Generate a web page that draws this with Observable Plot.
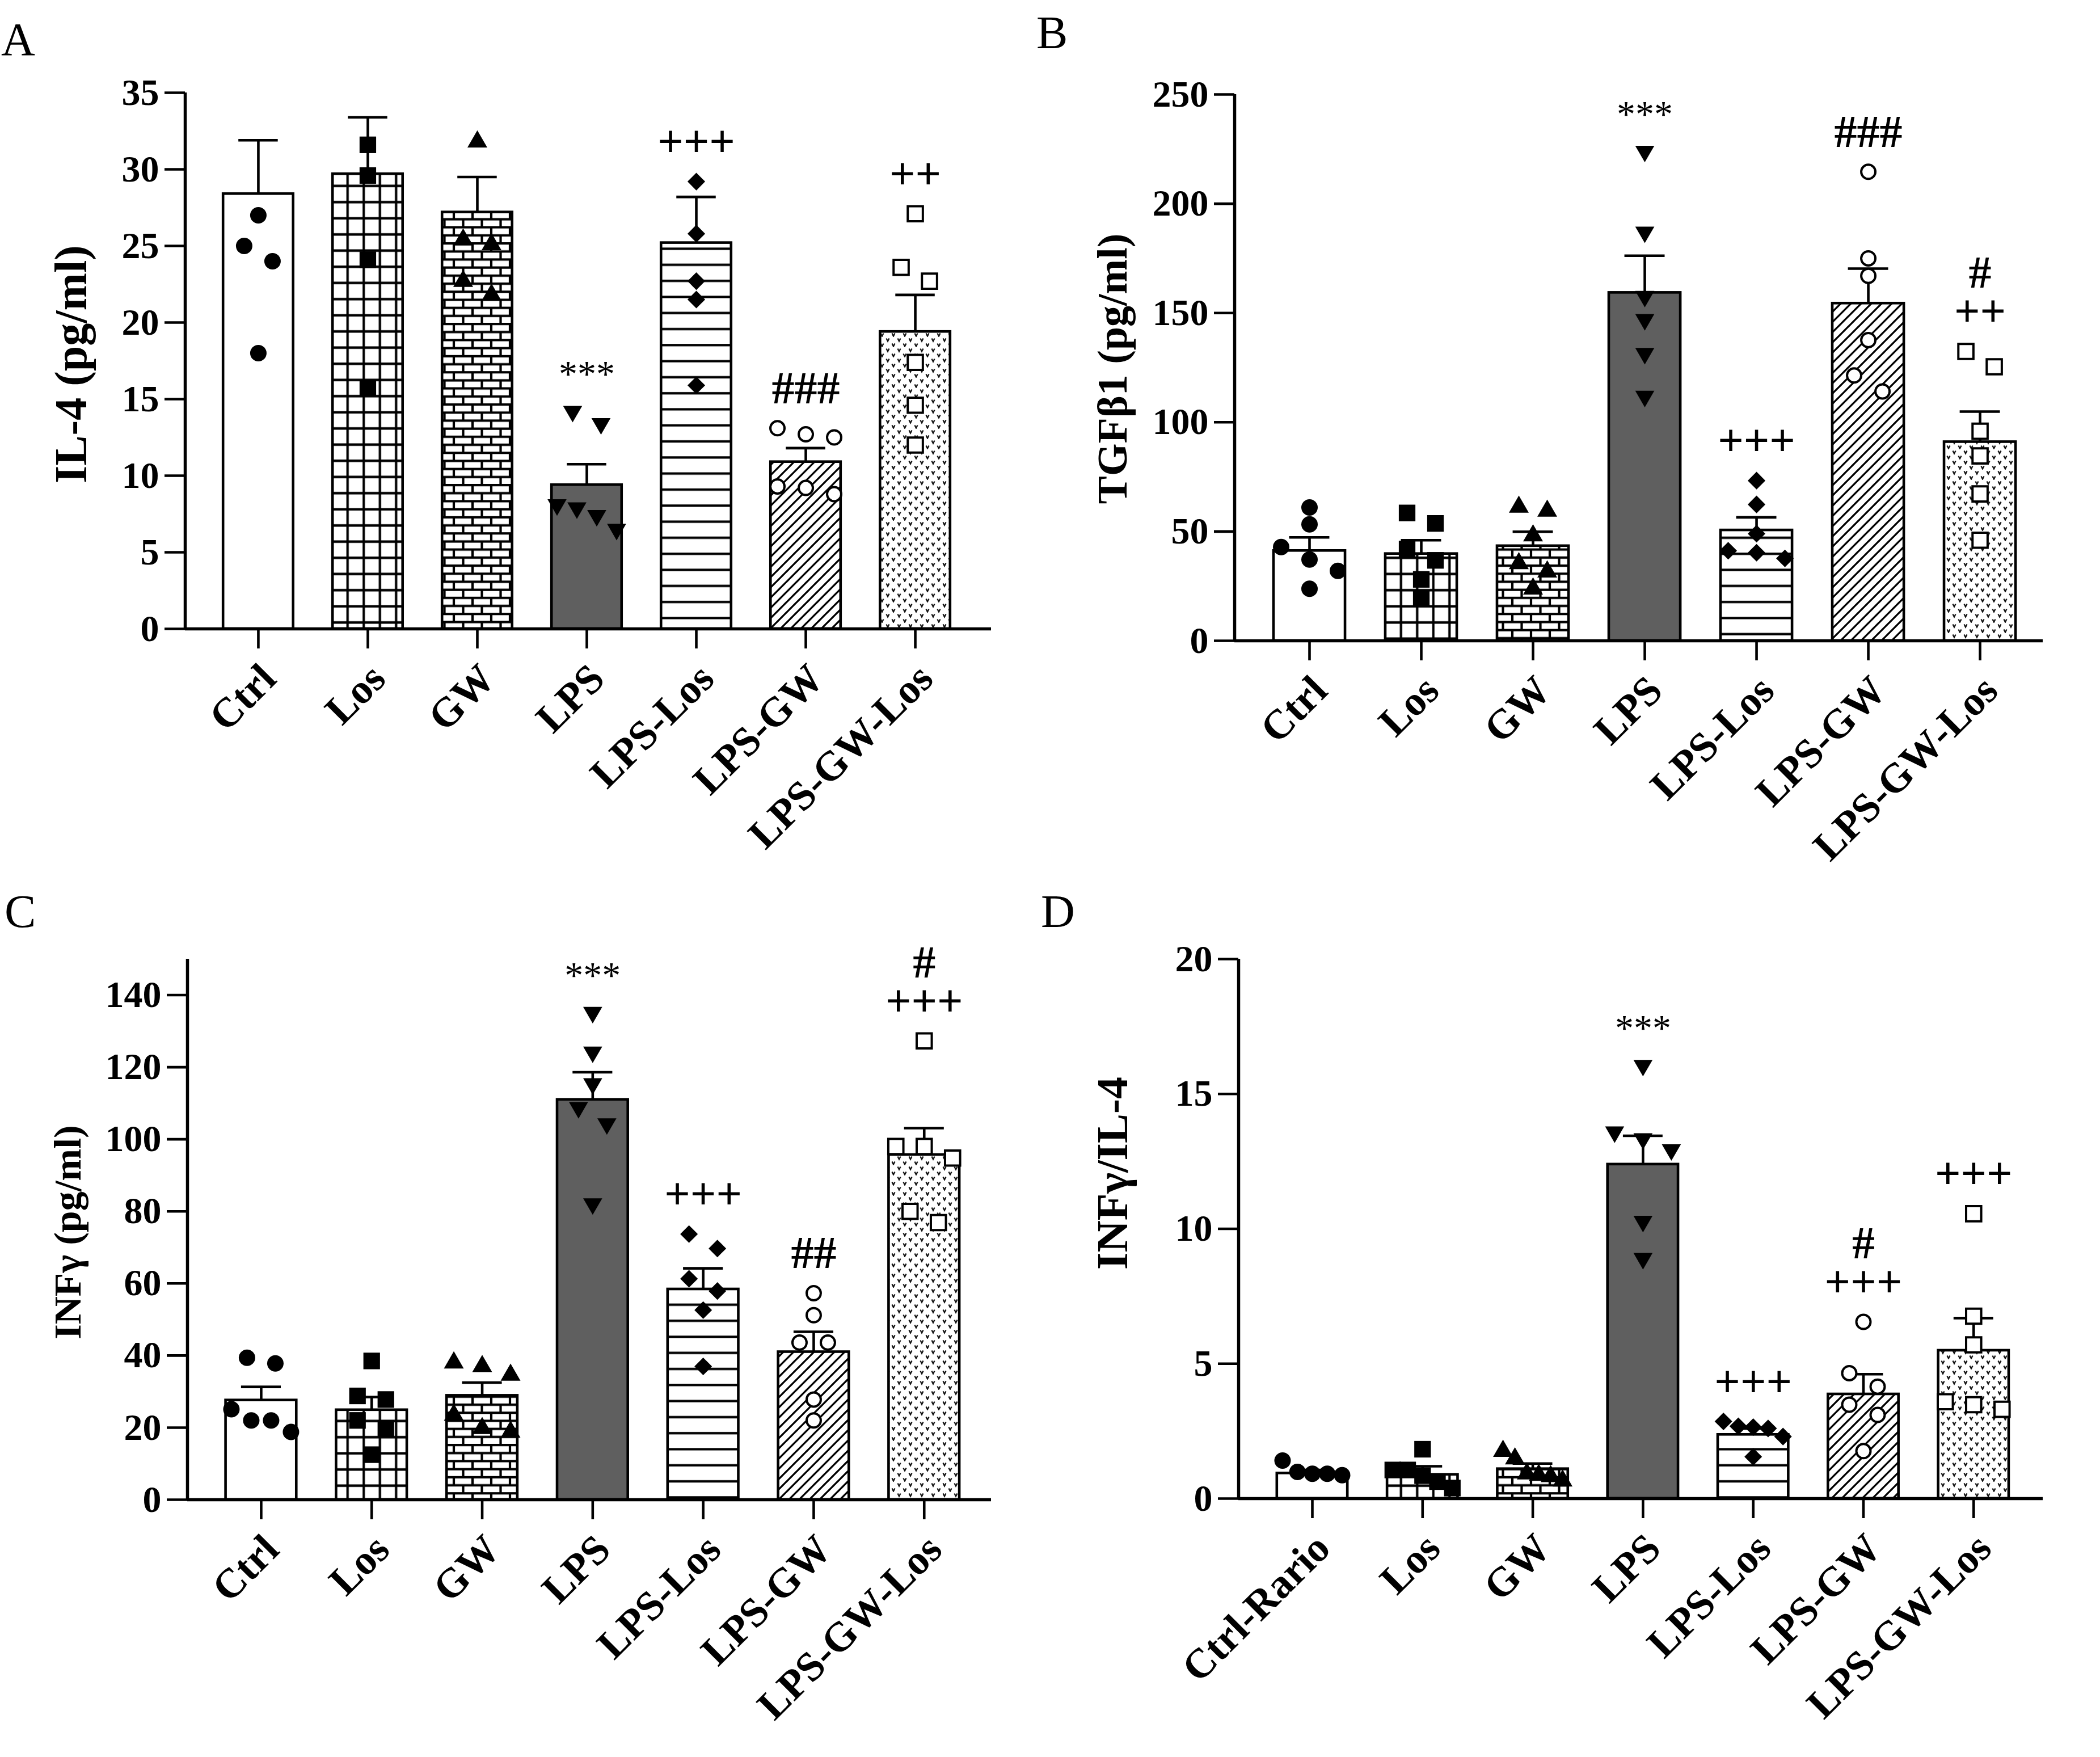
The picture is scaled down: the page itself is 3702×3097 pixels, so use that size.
<!DOCTYPE html>
<html>
<head>
<meta charset="utf-8">
<script src="https://cdn.jsdelivr.net/npm/d3@7"></script>
<script src="https://cdn.jsdelivr.net/npm/@observablehq/plot@0.6"></script>
<style>
  body { margin: 0; background: #fff; }
  #fig { position: relative; width: 3702px; height: 3097px; background: #fff; overflow: hidden; }
  .panel { position: absolute; }
  #letters { position: absolute; left: 0; top: 0; }
</style>
</head>
<body>
<div id="fig"></div>
<script>
// ---------------- DATA ----------------
const categories = ["Ctrl", "Los", "GW", "LPS", "LPS-Los", "LPS-GW", "LPS-GW-Los"];
const categoriesD = ["Ctrl-Rario", "Los", "GW", "LPS", "LPS-Los", "LPS-GW", "LPS-GW-Los"];

// Panel A: IL-4 (pg/ml)
const il4Mean = [28.4, 29.7, 27.2, 9.4, 25.2, 10.9, 19.4];
const il4Sem = [3.5, 3.7, 2.3, 1.35, 3.0, 0.9, 2.4];
const il4Points = [
  [27.0, 25.0, 24.0, 18.0],
  [31.6, 29.6, 24.1, 15.7],
  [31.8, 25.4, 25.1, 22.7, 21.8],
  [14.2, 13.4, 8.1, 7.9, 7.4, 6.5],
  [29.2, 25.8, 22.7, 21.5, 15.9],
  [13.1, 12.7, 12.5, 9.3, 9.2, 8.8],
  [27.1, 23.6, 22.7, 17.4, 14.6, 12.0]
];
const il4Signif = ["", "", "", "***", "+++", "###", "++"];
const il4Ticks = [0, 5, 10, 15, 20, 25, 30, 35];

// Panel B: TGFβ1 (pg/ml)
const tgfMean = [41.2, 39.8, 43.4, 159.3, 50.6, 154.4, 91.0];
const tgfSem = [6.1, 6.2, 6.5, 16.9, 5.9, 15.9, 13.9];
const tgfPoints = [
  [61.0, 53.3, 42.9, 37.2, 32.0, 23.8],
  [58.5, 53.7, 42.0, 36.8, 28.1, 19.5],
  [61.2, 59.4, 48.1, 35.4, 31.6, 23.8],
  [224.0, 187.0, 157.6, 147.0, 131.5, 111.9],
  [73.3, 62.4, 49.0, 41.2, 40.3, 37.7],
  [214.6, 175.0, 167.0, 137.6, 121.4, 114.1],
  [132.4, 125.4, 95.9, 84.6, 67.2, 46.0]
];
const tgfSignif = ["", "", "", "***", "+++", "###", "#\n++"];
const tgfTicks = [0, 50, 100, 150, 200, 250];

// Panel C: INFγ (pg/ml)
const infMean = [27.6, 24.9, 28.9, 111.0, 58.4, 41.0, 95.7];
const infSem = [3.7, 3.6, 3.6, 7.6, 5.8, 5.6, 7.4];
const infPoints = [
  [39.4, 37.8, 25.1, 22.0, 22.0, 18.8],
  [38.5, 28.8, 27.8, 22.0, 19.8, 12.5],
  [38.0, 37.0, 34.6, 23.5, 19.8, 18.8],
  [135.2, 124.2, 115.4, 108.8, 104.3, 82.1],
  [73.7, 69.7, 61.3, 57.9, 52.6, 37.0],
  [57.3, 51.2, 43.6, 43.6, 27.8, 22.0],
  [127.3, 98.0, 98.0, 94.8, 80.0, 76.9]
];
const infSignif = ["", "", "", "***", "+++", "##", "#\n+++"];
const infTicks = [0, 20, 40, 60, 80, 100, 120, 140];

// Panel D: INFγ/IL-4
const ratioMean = [0.94, 0.89, 1.10, 12.39, 2.37, 3.87, 5.49];
const ratioSem = [0.12, 0.31, 0.20, 1.06, 0.23, 0.74, 1.20];
const ratioPoints = [
  [1.41, 0.99, 0.92, 0.92, 0.87],
  [1.83, 1.06, 1.06, 0.85, 0.63, 0.39],
  [1.76, 1.48, 0.92, 0.87, 0.82, 0.66],
  [16.06, 13.59, 13.34, 12.93, 10.28, 8.90],
  [2.86, 2.68, 2.65, 2.60, 2.30, 1.55],
  [6.55, 4.65, 4.15, 3.48, 3.10, 1.76],
  [10.56, 6.76, 5.70, 3.59, 3.48, 3.31]
];
const ratioSignif = ["", "", "", "***", "+++", "#\n+++", "+++"];
const ratioTicks = [0, 5, 10, 15, 20];

// ---------------- STYLE / LAYOUT ----------------
const FONT = "'Liberation Serif', 'Times New Roman', serif";
const LW = 4.6;

const triangleDown = {
  draw(context, size) {
    const y = -Math.sqrt(size / (Math.sqrt(3) * 3));
    context.moveTo(0, -y * 2);
    context.lineTo(-Math.sqrt(3) * y, y);
    context.lineTo(Math.sqrt(3) * y, y);
    context.closePath();
  }
};
const markerStyles = [
  {symbol: d3.symbolCircle, r: 14.5, fill: "black"},
  {symbol: d3.symbolSquare, r: 16.5, fill: "black"},
  {symbol: d3.symbolTriangle, r: 13, fill: "black"},
  {symbol: triangleDown, r: 12.5, fill: "black"},
  {symbol: d3.symbolDiamond2, r: 14, fill: "black"},
  {symbol: d3.symbolCircle, r: 12.5, fill: "white", stroke: "black", strokeWidth: 4},
  {symbol: d3.symbolSquare, r: 15, fill: "white", stroke: "black", strokeWidth: 4}
];
const barFills = ["white", "grid", "brick", "#5f5f5f", "hlines", "diag", "dots"];

function addPatterns(svg, p) {
  const defs = d3.select(svg).insert("defs", ":first-child");
  function pat(id, w, h) {
    const pt = defs.append("pattern").attr("id", p + id)
      .attr("patternUnits", "userSpaceOnUse").attr("width", w).attr("height", h);
    pt.append("rect").attr("width", w).attr("height", h).attr("fill", "white");
    return pt;
  }
  pat("grid", 28.5, 28.5).append("path").attr("d", "M14.25,0V28.5M0,14.25H28.5")
    .attr("stroke", "black").attr("stroke-width", 4.2).attr("fill", "none");
  pat("brick", 33, 28.4).append("path").attr("d", "M0,3H33M0,17.2H33M8,3V17.2M24.5,17.2V28.4M24.5,0V3")
    .attr("stroke", "black").attr("stroke-width", 4.2).attr("fill", "none");
  pat("hlines", 10, 28.3).append("path").attr("d", "M0,14H10")
    .attr("stroke", "black").attr("stroke-width", 4.2);
  pat("diag", 18, 18).append("path").attr("d", "M-5,5L5,-5M0,18L18,0M13,23L23,13")
    .attr("stroke", "black").attr("stroke-width", 3.3);
  pat("dots", 20, 18).append("path").attr("d", "M2.5,2.5L5,7.5L7.5,2.5M12.5,11.5L15,16.5L17.5,11.5")
    .attr("stroke", "#111").attr("stroke-width", 2.3).attr("fill", "none");
}

function layoutDots(points, pxPerX, pxPerY) {
  const out = [];
  points.forEach((vals, i) => {
    const sorted = vals.slice().sort((a, b) => b - a);
    const groups = [];
    let cur = [sorted[0]];
    for (let k = 1; k < sorted.length; k++) {
      if ((cur[cur.length - 1] - sorted[k]) * pxPerY < 29) cur.push(sorted[k]);
      else { groups.push(cur); cur = [sorted[k]]; }
    }
    groups.push(cur);
    groups.forEach(g => {
      const n = g.length;
      const step = n > 1 ? Math.min(50, 105 / (n - 1)) : 0;
      g.forEach((v, k) => out.push({i, v, x: i + ((k - (n - 1) / 2) * step) / pxPerX}));
    });
  });
  return out;
}

function buildPanel(cfg) {
  const {id, cats, mean, sem, points, signif, ticks, title} = cfg;
  const {left, top, width, height, ml, mt, mb, mr, xDomain, yDomain} = cfg;
  const pxPerY = (height - mt - mb) / (yDomain[1] - yDomain[0]);
  const pxPerX = (width - ml - mr) / (xDomain[1] - xDomain[0]);
  const rows = cats.map((c, i) => ({
    i, cat: c, mean: mean[i], top: mean[i] + sem[i],
    fill: barFills[i].startsWith("#") || barFills[i] === "white" ? barFills[i] : `url(#${id}${barFills[i]})`
  }));
  const dots = layoutDots(points, pxPerX, pxPerY);
  const ann = rows.filter(r => signif[r.i] !== "").map(r => ({
    i: r.i, text: signif[r.i], anchor: Math.max(r.top, d3.max(points[r.i]))
  }));

  const dotMarks = markerStyles.map((s, i) => Plot.dot(dots.filter(d => d.i === i), {
    x: "x", y: "v", symbol: s.symbol, r: s.r, fill: s.fill,
    stroke: s.stroke || "none", strokeWidth: s.strokeWidth || 0
  }));

  const svg = Plot.plot({
    width, height,
    marginLeft: ml, marginTop: mt, marginBottom: mb, marginRight: mr,
    x: {domain: xDomain},
    y: {domain: yDomain},
    color: {type: "identity"},
    style: {fontFamily: FONT, background: "transparent", overflow: "visible", color: "black"},
    marks: [
      Plot.rectY(rows, {x1: d => d.i - 0.32, x2: d => d.i + 0.32, y: "mean", fill: "fill", stroke: "black", strokeWidth: LW}),
      Plot.ruleX(rows, {x: "i", y1: "mean", y2: "top", strokeWidth: LW}),
      Plot.ruleY(rows, {y: "top", x1: d => d.i - 0.18, x2: d => d.i + 0.18, strokeWidth: LW}),
      ...dotMarks,
      Plot.ruleX([xDomain[0]], {strokeWidth: 5.5}),
      Plot.ruleY([yDomain[0]], {strokeWidth: 5.5}),
      Plot.axisY({ticks, tickSize: 36, tickPadding: 10, fontSize: 66, fontWeight: "bold", fontFamily: FONT, strokeWidth: LW, label: null, tickFormat: d => String(d)}),
      Plot.axisX({ticks: d3.range(cats.length), tickSize: 35, tickFormat: () => "", strokeWidth: LW, label: null}),
      Plot.text(cats, {x: (d, i) => i, frameAnchor: "bottom", text: d => d, rotate: -45, textAnchor: "end",
        dx: 35, dy: 92, fontSize: 73, fontWeight: "bold", fontFamily: FONT}),
      Plot.text([title], {frameAnchor: "left", text: d => d, rotate: -90, textAnchor: "middle",
        dx: cfg.titleDx, dy: cfg.titleDy, fontSize: cfg.titleSize, fontWeight: "bold", fontFamily: FONT}),
      Plot.text(ann.filter(d => d.text.includes("*")), {x: "i", y: "anchor", text: "text", dy: -44,
        lineAnchor: "bottom", fontSize: 66, fontFamily: FONT}),
      Plot.text(ann.filter(d => !d.text.includes("*")), {x: "i", y: "anchor", text: "text", dy: -44,
        lineAnchor: "bottom", lineHeight: 0.85, fontSize: 80, fontWeight: "bold", fontFamily: FONT})
    ]
  });
  addPatterns(svg, id);
  const wrap = document.createElement("div");
  wrap.className = "panel";
  wrap.style.left = left + "px";
  wrap.style.top = top + "px";
  wrap.appendChild(svg);
  document.getElementById("fig").appendChild(wrap);
}

buildPanel({
  id: "pA-", cats: categories, mean: il4Mean, sem: il4Sem, points: il4Points, signif: il4Signif, ticks: il4Ticks,
  title: "IL-4 (pg/ml)", titleSize: 80, titleDx: -200, titleDy: 6,
  left: 0, top: 0, width: 1800, height: 1550, ml: 326, mt: 163, mb: 442, mr: 53,
  xDomain: [-0.668, 6.694], yDomain: [0, 35]
});
buildPanel({
  id: "pB-", cats: categories, mean: tgfMean, sem: tgfSem, points: tgfPoints, signif: tgfSignif, ticks: tgfTicks,
  title: "TGFβ1 (pg/ml)", titleSize: 74, titleDx: -214, titleDy: 2,
  left: 1800, top: 0, width: 1902, height: 1550, ml: 376, mt: 166, mb: 421, mr: 101,
  xDomain: [-0.670, 6.563], yDomain: [0, 250]
});
buildPanel({
  id: "pC-", cats: categories, mean: infMean, sem: infSem, points: infPoints, signif: infSignif, ticks: infTicks,
  title: "INFγ (pg/ml)", titleSize: 68, titleDx: -210, titleDy: 5,
  left: 0, top: 1550, width: 1800, height: 1547, ml: 330, mt: 140, mb: 454, mr: 53,
  xDomain: [-0.667, 6.607], yDomain: [0, 150]
});
buildPanel({
  id: "pD-", cats: categoriesD, mean: ratioMean, sem: ratioSem, points: ratioPoints, signif: ratioSignif, ticks: ratioTicks,
  title: "INFγ/IL-4", titleSize: 78, titleDx: -221, titleDy: -98,
  left: 1800, top: 1550, width: 1902, height: 1547, ml: 383, mt: 140, mb: 456, mr: 101,
  xDomain: [-0.669, 6.629], yDomain: [0, 20]
});

// Panel letters
const letters = d3.select("#fig").append("svg").attr("id", "letters")
  .attr("width", 3702).attr("height", 3097).style("pointer-events", "none");
[["A", 2, 97], ["B", 1827, 85], ["C", 8, 1634], ["D", 1835, 1634]].forEach(([t, x, y]) => {
  letters.append("text").attr("x", x).attr("y", y).attr("font-family", FONT)
    .attr("font-size", 83).attr("fill", "black").text(t);
});
</script>
</body>
</html>
